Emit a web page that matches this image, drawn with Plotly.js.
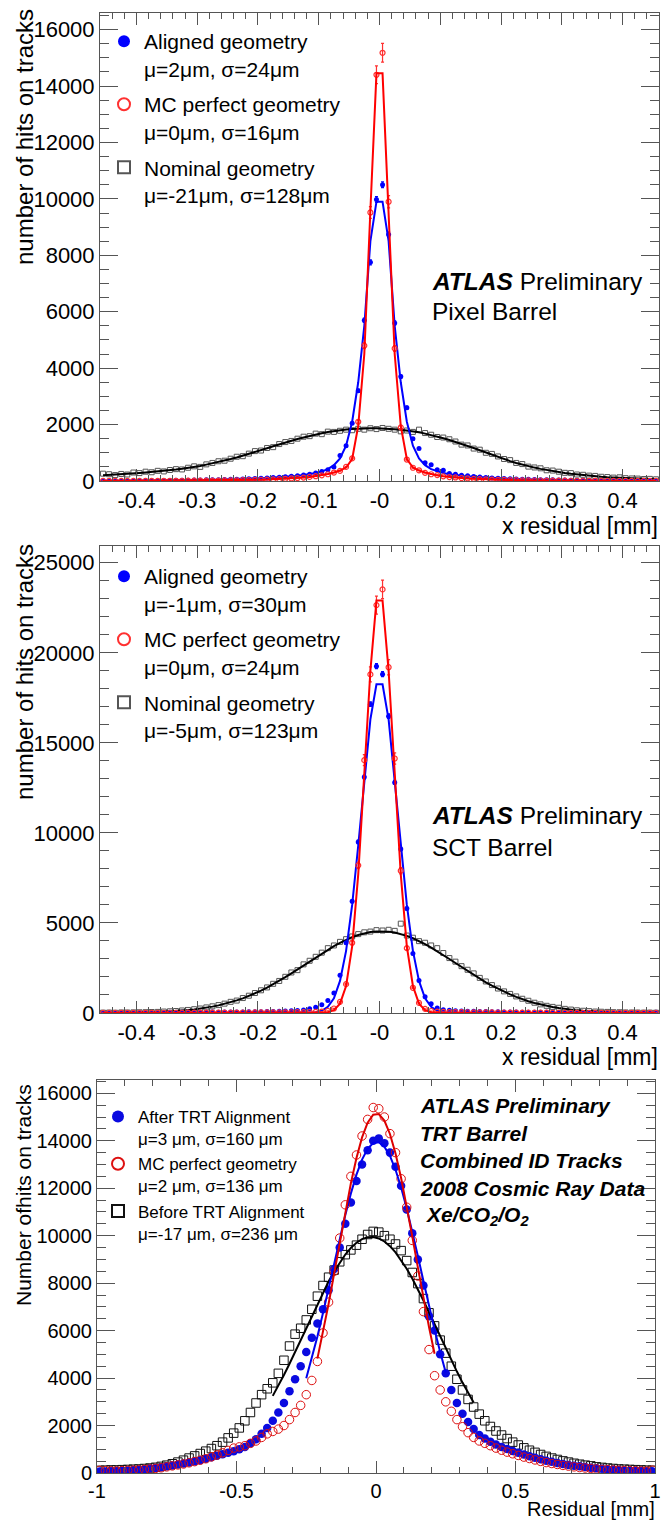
<!DOCTYPE html>
<html>
<head>
<meta charset="utf-8">
<script src="https://cdn.plot.ly/plotly-3.0.1.min.js"></script>
<style>html,body{margin:0;padding:0;background:#fff}#chart{width:666px;height:1520px}</style>
</head>
<body>
<div id="chart"></div>
<script>
// ---------------- DATA ----------------
// Pixel barrel: bins of width 0.01 mm, first bin centre -0.455 mm
const pixBinStart = -0.455, pixBinWidth = 0.01;
const pixAligned = [8,10,9,12,11,13,14,15,17,18,20,22,24,27,29,33,36,40,44,48,55,60,66,74,80,90,98,108,122,135,148,170,190,210,240,280,340,400,500,900,1250,2050,3200,5700,7750,9980,
  10500,8740,5600,3700,2600,1500,1150,650,580,400,380,270,240,200,185,160,140,125,110,100,90,82,75,66,60,55,48,44,40,36,32,30,27,24,22,20,18,16,15,14,12,11,10,9,9,8];
const pixAlignedFit = [8,8,9,10,11,12,13,14,15,17,19,21,23,25,28,31,34,38,42,47,52,58,65,72,80,89,99,110,122,136,152,170,188,210,240,285,340,420,560,800,1250,2100,3500,5500,8500,9900,
  9900,8500,5500,3500,2100,1250,800,560,420,340,285,240,210,188,170,152,136,122,110,99,89,80,72,65,58,52,47,42,38,34,31,28,25,23,21,19,17,15,14,13,12,11,10,9,8,8];
const pixMC = [3,4,3,4,5,4,5,6,5,6,7,8,7,9,10,11,12,13,15,16,19,22,25,28,33,38,44,50,58,66,78,90,104,120,145,170,200,240,300,360,500,800,2100,4800,9520,14400,
  15180,9900,4700,1900,760,470,380,290,240,210,165,140,125,100,92,76,68,56,50,42,38,31,29,23,21,18,17,14,12,11,10,9,8,8,7,7,6,6,5,5,5,4,4,4,3,3];
const pixMCFit = [3,4,4,4,4,5,5,5,6,6,7,7,8,8,9,10,11,12,14,16,18,21,24,28,32,37,43,50,58,67,78,90,105,122,145,170,200,245,300,370,480,780,1950,4500,9600,14450,
  14450,9600,4500,1950,780,480,370,300,245,200,170,145,122,105,90,78,67,58,50,43,37,32,28,24,21,18,16,14,12,11,10,9,8,8,7,7,6,6,5,5,5,4,4,4,4,3];
const pixNominal = [260,240,210,250,230,300,280,330,310,360,340,390,420,410,470,520,500,590,640,700,720,790,860,880,970,1060,1080,1170,1200,1310,1380,1420,1500,1570,1590,1680,1660,1750,1740,1780,1820,1800,1850,1820,1870,1840,
  1880,1850,1820,1760,1790,1740,1820,1700,1640,1560,1540,1480,1400,1290,1260,1150,1110,1000,960,870,780,740,640,600,510,480,450,380,370,330,290,280,230,220,190,180,150,140,120,130,100,90,85,70,75,60];
const pixNominalFit = [205,215,228,242,256,272,288,304,320,338,358,380,405,432,462,495,535,580,625,675,725,780,835,895,960,1025,1090,1160,1230,1300,1365,1430,1490,1545,1600,1650,1695,1735,1770,1800,1825,1845,1860,1868,1870,1866,
  1862,1852,1838,1818,1794,1765,1725,1680,1630,1575,1515,1452,1388,1318,1247,1170,1090,1010,930,852,777,705,640,580,525,475,430,388,350,316,284,254,228,204,183,164,147,132,119,107,97,88,80,73,67,62];

// SCT barrel: same binning
const sctBinStart = -0.455, sctBinWidth = 0.01;
const sctAligned = [15,20,18,22,20,25,24,28,30,26,32,35,30,38,40,42,38,45,50,48,55,52,60,58,65,70,75,80,85,95,105,120,140,170,230,320,460,700,1110,2100,3900,6200,9500,13100,17150,19260,
  18815,16480,12800,9100,5800,3300,1800,900,520,280,185,150,130,115,100,92,85,78,72,66,60,56,52,48,45,42,40,38,35,33,30,28,27,25,23,22,20,19,18,17,16,15,14,14,13,40];
const sctAlignedFit = [1,1,1,1,1,1,1,1,1,1,1,1,1,1,1,1,1,1,1,1,1,1,1,1,1,1,1,1,1,1,1,1,1,4,13,42,125,340,820,1780,3450,6000,9300,13000,16300,18250,
  18250,16300,13000,9300,6000,3450,1780,820,340,125,42,13,4,1,1,1,1,1,1,1,1,1,1,1,1,1,1,1,1,1,1,1,1,1,1,1,1,1,1,1,1,1,1,1,1,1];
const sctMC = [5,6,8,7,9,10,8,11,12,10,13,14,15,13,16,18,17,20,19,22,24,23,26,28,27,30,32,35,34,38,40,42,45,50,55,60,80,120,250,620,1600,3900,8200,14040,18800,22650,
  23520,19200,14130,7900,3600,1400,560,230,110,75,58,52,48,45,42,38,36,33,30,29,27,25,23,22,20,19,17,16,15,14,13,12,11,10,10,9,8,8,7,7,6,6,5,5,4,4];
const sctMCFit = [1,1,1,1,1,1,1,1,1,1,1,1,1,1,1,1,1,1,1,1,1,1,1,1,1,1,1,1,1,1,1,1,1,1,1,3,12,45,160,520,1500,3700,7700,13300,19000,22900,
  22900,19000,13300,7700,3700,1500,520,160,45,12,3,1,1,1,1,1,1,1,1,1,1,1,1,1,1,1,1,1,1,1,1,1,1,1,1,1,1,1,1,1,1,1,1,1,1,1];
const sctNominal = [20,25,15,30,28,35,40,45,55,60,80,95,110,140,170,210,250,310,370,440,520,620,690,830,960,1110,1260,1420,1620,1780,2010,2250,2380,2700,2900,3120,3350,3600,3750,3950,4100,4250,4380,4480,4520,4600,
  4580,4620,4560,4960,4300,4180,3990,3900,3750,3600,3330,3050,2850,2600,2400,2200,1950,1750,1550,1360,1200,1060,920,790,680,570,480,400,340,290,230,190,150,125,105,80,70,60,45,40,30,28,25,20,22,18];
const sctNominalFit = [5,6,8,11,14,19,24,31,40,51,65,83,104,130,161,198,243,293,354,424,504,596,700,814,943,1085,1238,1406,1588,1786,1990,2200,2420,2643,2866,3088,3306,3515,3714,3896,4063,4208,4328,4424,4492,4530,
  4539,4518,4468,4390,4285,4150,3998,3826,3633,3431,3219,2997,2775,2552,2332,2116,1907,1706,1517,1342,1179,1030,894,763,654,554,467,394,330,274,220,180,146,118,95,76,60,48,36,28,22,17,13,10,7,5];

// TRT barrel: bins of width 0.02 mm, first bin centre -0.99 mm
const trtBinStart = -0.99, trtBinWidth = 0.02;
const trtAfter = [60,65,75,80,90,110,125,140,160,185,210,240,280,320,360,400,440,490,540,600,660,730,790,850,920,1000,1100,1250,1420,1650,1900,2200,2550,2950,3450,3950,4500,5100,5700,6300,6900,7700,8600,9500,10500,11400,12300,13000,13600,14000,
  14100,13900,13500,12900,12100,11100,10100,9000,7900,6600,6000,5000,4200,3500,2950,2500,2150,1850,1600,1450,1320,1200,1100,1010,930,850,780,710,640,580,520,470,420,380,340,310,280,250,225,200,180,160,140,125,110,100,90,80,75,70];
const trtMC = [110,100,90,85,100,110,120,135,150,170,195,220,260,300,340,380,430,480,540,600,680,760,850,950,1050,1100,1150,1250,1350,1500,1650,1750,1850,2000,2250,2550,2850,3300,3900,4700,5900,7200,8500,9900,11300,12500,13400,14200,14900,15400,
  15350,15000,14300,13500,12400,11200,9800,8300,6800,5200,4100,3500,3000,2600,2250,1950,1700,1500,1350,1250,1150,1050,960,880,810,740,670,610,550,490,440,400,360,320,290,260,230,210,190,170,150,140,125,115,105,95,90,85,80,120];
const trtBefore = [110,120,130,130,140,150,160,170,190,210,240,280,330,390,460,540,630,720,820,920,1030,1150,1300,1480,1680,1900,2200,2550,2950,3300,3550,3800,4200,4750,5350,5850,6100,6450,6900,7450,7900,8250,8550,8900,9200,9400,9600,9850,10050,10180,
  10150,10000,9850,9650,9370,8950,8450,7980,7350,6750,6200,5600,5050,4500,3950,3500,3100,2780,2480,2200,1960,1770,1600,1450,1300,1180,1060,960,870,780,700,630,570,510,460,410,370,330,300,260,235,210,190,170,160,150,140,130,120,115];
// Gaussian fits drawn over the core only (step 0.02 mm)
const trtAfterFitStart = -0.25;
const trtAfterFit = [3997,4834,5752,6739,7777,8833,9877,10871,11782,12572,13205,13657,13904,13937,13753,13361,12778,12033,11156,10181,9147,8091,7045,6040,5099,4237];
const trtMCFitStart = -0.21;
const trtMCFit = [4818,5918,7120,8404,9713,11000,12208,13274,14140,14760,15094,15125,14850,14285,13464,12433,11250,9975,8664,7375,6149,5024];
const trtBeforeFitStart = -0.37;
const trtBeforeFit = [3250,3676,4130,4604,5096,5600,6110,6620,7122,7606,8066,8489,8872,9207,9486,9702,9853,9935,9946,9885,9755,9557,9296,8978,8609,8196,7746,7269,6773,6263,5754,5247,4750,4274,3810,3376,2970];

// Tick labels
const siTickVals = [-0.4,-0.3,-0.2,-0.1,0,0.1,0.2,0.3,0.4];
const siTickText = ['-0.4','-0.3','-0.2','-0.1','-0','0.1','0.2','0.3','0.4'];
const pixYTickVals = [0,2000,4000,6000,8000,10000,12000,14000,16000];
const pixYTickText = ['0','2000','4000','6000','8000','10000','12000','14000','16000'];
const sctYTickVals = [0,5000,10000,15000,20000,25000];
const sctYTickText = ['0','5000','10000','15000','20000','25000'];
const trtXTickVals = [-1,-0.5,0,0.5,1];
const trtXTickText = ['-1','-0.5','0','0.5','1'];
const trtYTickVals = [0,2000,4000,6000,8000,10000,12000,14000,16000];
const trtYTickText = ['0','2000','4000','6000','8000','10000','12000','14000','16000'];

// Legend labels
const pixNames = ['Aligned geometry<br>μ=2μm, σ=24μm','MC perfect geometry<br>μ=0μm, σ=16μm','Nominal geometry<br>μ=-21μm, σ=128μm'];
const sctNames = ['Aligned geometry<br>μ=-1μm, σ=30μm','MC perfect geometry<br>μ=0μm, σ=24μm','Nominal geometry<br>μ=-5μm, σ=123μm'];
const trtNames = ['After TRT Alignment<br>μ=3 μm, σ=160 μm','MC perfect geometry<br>μ=2 μm, σ=136 μm','Before TRT Alignment<br>μ=-17 μm, σ=236 μm'];

// ---------------- STYLE / LAYOUT ----------------
const W = 666, H = 1520;
const FONT = '"Liberation Sans", Arial, Helvetica, sans-serif';
const px = v => v / W;
const py = v => 1 - v / H;
const FRAME = '#555';

function pts(y, x0, dx, xa, ya, marker, name, rank, lg, group, err) {
  const t = {type:'scatter', mode:'markers', y:y, x0:x0, dx:dx, xaxis:xa, yaxis:ya,
    marker:marker, name:name, legendrank:rank, legend:lg, legendgroup:group, hoverinfo:'skip'};
  if (err) t.error_y = err;
  return t;
}
function fit(y, x0, dx, xa, ya, color, w) {
  return {type:'scatter', mode:'lines', y:y, x0:x0, dx:dx, xaxis:xa, yaxis:ya,
    line:{color:color, width:w, shape:'linear'}, showlegend:false, hoverinfo:'skip'};
}

const siBlue = {symbol:'circle', size:5, color:'#0000ff', line:{width:0}};
const siRed = {symbol:'circle-open', size:5, color:'#ff3030', line:{width:1.2, color:'#ff3030'}};
const siBlack = {symbol:'square-open', size:5, color:'#555', line:{width:1, color:'#555'}};
const blueErr = {type:'sqrt', visible:true, color:'#0000ff', thickness:1.2, width:1.5};
const redErr = {type:'percent', value:2.2, visible:true, color:'#ff3030', thickness:1.2, width:1.5};

const trtBlue = {symbol:'circle', size:8.5, color:'#0a0ae0', line:{width:0}};
const trtRed = {symbol:'circle-open', size:8.5, color:'#dd1010', line:{width:1, color:'#dd1010'}};
const trtBlack = {symbol:'square-open', size:8.5, color:'#111', line:{width:1, color:'#111'}};

const data = [
  // Pixel
  pts(pixNominal, pixBinStart, pixBinWidth, 'x', 'y', siBlack, pixNames[2], 3, 'legend', 'p1n'),
  fit(pixNominalFit, pixBinStart, pixBinWidth, 'x', 'y', '#000', 2),
  pts(pixAligned, pixBinStart, pixBinWidth, 'x', 'y', siBlue, pixNames[0], 1, 'legend', 'p1a', blueErr),
  fit(pixAlignedFit, pixBinStart, pixBinWidth, 'x', 'y', '#0000ff', 2),
  pts(pixMC, pixBinStart, pixBinWidth, 'x', 'y', siRed, pixNames[1], 2, 'legend', 'p1m', redErr),
  fit(pixMCFit, pixBinStart, pixBinWidth, 'x', 'y', '#ff0000', 2),
  // SCT
  pts(sctNominal, sctBinStart, sctBinWidth, 'x2', 'y2', siBlack, sctNames[2], 3, 'legend2', 'p2n'),
  fit(sctNominalFit, sctBinStart, sctBinWidth, 'x2', 'y2', '#000', 2),
  pts(sctAligned, sctBinStart, sctBinWidth, 'x2', 'y2', siBlue, sctNames[0], 1, 'legend2', 'p2a', blueErr),
  fit(sctAlignedFit, sctBinStart, sctBinWidth, 'x2', 'y2', '#0000ff', 2),
  pts(sctMC, sctBinStart, sctBinWidth, 'x2', 'y2', siRed, sctNames[1], 2, 'legend2', 'p2m', redErr),
  fit(sctMCFit, sctBinStart, sctBinWidth, 'x2', 'y2', '#ff0000', 2),
  // TRT
  pts(trtBefore, trtBinStart, trtBinWidth, 'x3', 'y3', trtBlack, trtNames[2], 3, 'legend3', 'p3n'),
  pts(trtAfter, trtBinStart, trtBinWidth, 'x3', 'y3', trtBlue, trtNames[0], 1, 'legend3', 'p3a'),
  pts(trtMC, trtBinStart, trtBinWidth, 'x3', 'y3', trtRed, trtNames[1], 2, 'legend3', 'p3m'),
  fit(trtBeforeFit, trtBeforeFitStart, trtBinWidth, 'x3', 'y3', '#000', 2),
  fit(trtAfterFit, trtAfterFitStart, trtBinWidth, 'x3', 'y3', '#0000ee', 2),
  fit(trtMCFit, trtMCFitStart, trtBinWidth, 'x3', 'y3', '#dd0000', 2)
];

function axis(o) {
  return Object.assign({
    tickmode:'array', ticks:'inside', tickwidth:1, tickcolor:FRAME,
    showline:true, linecolor:FRAME, linewidth:1, mirror:'ticks',
    showgrid:false, zeroline:false, fixedrange:true,
    tickfont:{family:FONT, size:22, color:'#000'}
  }, o);
}
function minor(dtick, len) {
  return {ticks:'inside', tickmode:'linear', tick0:0, dtick:dtick, ticklen:len, tickwidth:1, tickcolor:FRAME, showgrid:false};
}

const xdom12 = [px(100), px(659)];
const xdom3 = [px(97), px(655)];
const legendBase = {xanchor:'left', yanchor:'top', bgcolor:'rgba(0,0,0,0)', borderwidth:0,
  itemsizing:'constant', valign:'top'};

const layout = {
  width:W, height:H, autosize:false,
  margin:{l:0, r:0, t:0, b:0, pad:0},
  paper_bgcolor:'#fff', plot_bgcolor:'#fff',
  font:{family:FONT, color:'#000'},
  showlegend:true,
  xaxis: axis({domain:xdom12, anchor:'y', range:[-0.46,0.46], tickvals:siTickVals, ticktext:siTickText, ticklen:12, minor:minor(0.02,6)}),
  yaxis: axis({domain:[py(481), py(13)], anchor:'x', range:[0,16590], tickvals:pixYTickVals, ticktext:pixYTickText, ticklen:18, minor:minor(500,9)}),
  xaxis2: axis({domain:xdom12, anchor:'y2', range:[-0.46,0.46], tickvals:siTickVals, ticktext:siTickText, ticklen:12, minor:minor(0.02,6)}),
  yaxis2: axis({domain:[py(1013), py(546)], anchor:'x2', range:[0,25930], tickvals:sctYTickVals, ticktext:sctYTickText, ticklen:18, minor:minor(1000,9)}),
  xaxis3: axis({domain:xdom3, anchor:'y3', range:[-1,1], tickvals:trtXTickVals, ticktext:trtXTickText, ticklen:12, minor:minor(0.1,6),
    tickfont:{family:FONT, size:20, color:'#000'}}),
  yaxis3: axis({domain:[py(1473), py(1080)], anchor:'x3', range:[0,16560], tickvals:trtYTickVals, ticktext:trtYTickText, ticklen:18, minor:minor(500,9),
    tickfont:{family:FONT, size:20, color:'#000'}}),
  legend: Object.assign({x:px(104), y:py(21), font:{family:FONT, size:21, color:'#000'}, tracegroupgap:5.5}, legendBase),
  legend2: Object.assign({x:px(104), y:py(556), font:{family:FONT, size:21, color:'#000'}, tracegroupgap:5.5}, legendBase),
  legend3: Object.assign({x:px(98), y:py(1099), font:{family:FONT, size:17, color:'#000'}, tracegroupgap:0}, legendBase),
  annotations: [
    {text:'number of hits on tracks', textangle:-90, xref:'paper', yref:'paper', x:px(24), y:py(7), xanchor:'center', yanchor:'top', showarrow:false, font:{size:24}},
    {text:'x residual [mm]', xref:'paper', yref:'paper', x:px(660), y:py(526), xanchor:'right', yanchor:'middle', showarrow:false, font:{size:23}},
    {text:'<b><i>ATLAS</i></b> Preliminary', xref:'paper', yref:'paper', x:px(430), y:py(281), xanchor:'left', yanchor:'middle', showarrow:false, font:{size:24.5}},
    {text:'Pixel Barrel', xref:'paper', yref:'paper', x:px(430), y:py(312), xanchor:'left', yanchor:'middle', showarrow:false, font:{size:24.5}},

    {text:'number of hits on tracks', textangle:-90, xref:'paper', yref:'paper', x:px(24), y:py(542), xanchor:'center', yanchor:'top', showarrow:false, font:{size:24}},
    {text:'x residual [mm]', xref:'paper', yref:'paper', x:px(660), y:py(1057), xanchor:'right', yanchor:'middle', showarrow:false, font:{size:23}},
    {text:'<b><i>ATLAS</i></b> Preliminary', xref:'paper', yref:'paper', x:px(430), y:py(815), xanchor:'left', yanchor:'middle', showarrow:false, font:{size:24.5}},
    {text:'SCT Barrel', xref:'paper', yref:'paper', x:px(430), y:py(848), xanchor:'left', yanchor:'middle', showarrow:false, font:{size:24.5}},

    {text:'Number ofhits on tracks', textangle:-90, xref:'paper', yref:'paper', x:px(23), y:py(1082), xanchor:'center', yanchor:'top', showarrow:false, font:{size:21}},
    {text:'Residual [mm]', xref:'paper', yref:'paper', x:px(657), y:py(1509), xanchor:'right', yanchor:'middle', showarrow:false, font:{size:20}},
    {text:'<b><i>ATLAS Preliminary</i></b>', xref:'paper', yref:'paper', x:px(418), y:py(1105), xanchor:'left', yanchor:'middle', showarrow:false, font:{size:21}},
    {text:'<b><i>TRT Barrel</i></b>', xref:'paper', yref:'paper', x:px(418), y:py(1133), xanchor:'left', yanchor:'middle', showarrow:false, font:{size:21}},
    {text:'<b><i>Combined ID Tracks</i></b>', xref:'paper', yref:'paper', x:px(418), y:py(1160), xanchor:'left', yanchor:'middle', showarrow:false, font:{size:21}},
    {text:'<b><i>2008 Cosmic Ray Data</i></b>', xref:'paper', yref:'paper', x:px(418), y:py(1188), xanchor:'left', yanchor:'middle', showarrow:false, font:{size:21}},
    {text:'<b><i>Xe/CO<sub>2</sub>/O<sub>2</sub></i></b>', xref:'paper', yref:'paper', x:px(424), y:py(1216), xanchor:'left', yanchor:'middle', showarrow:false, font:{size:21}}
  ]
};

Plotly.newPlot('chart', data, layout, {displayModeBar:false, staticPlot:true});
</script>
</body>
</html>
